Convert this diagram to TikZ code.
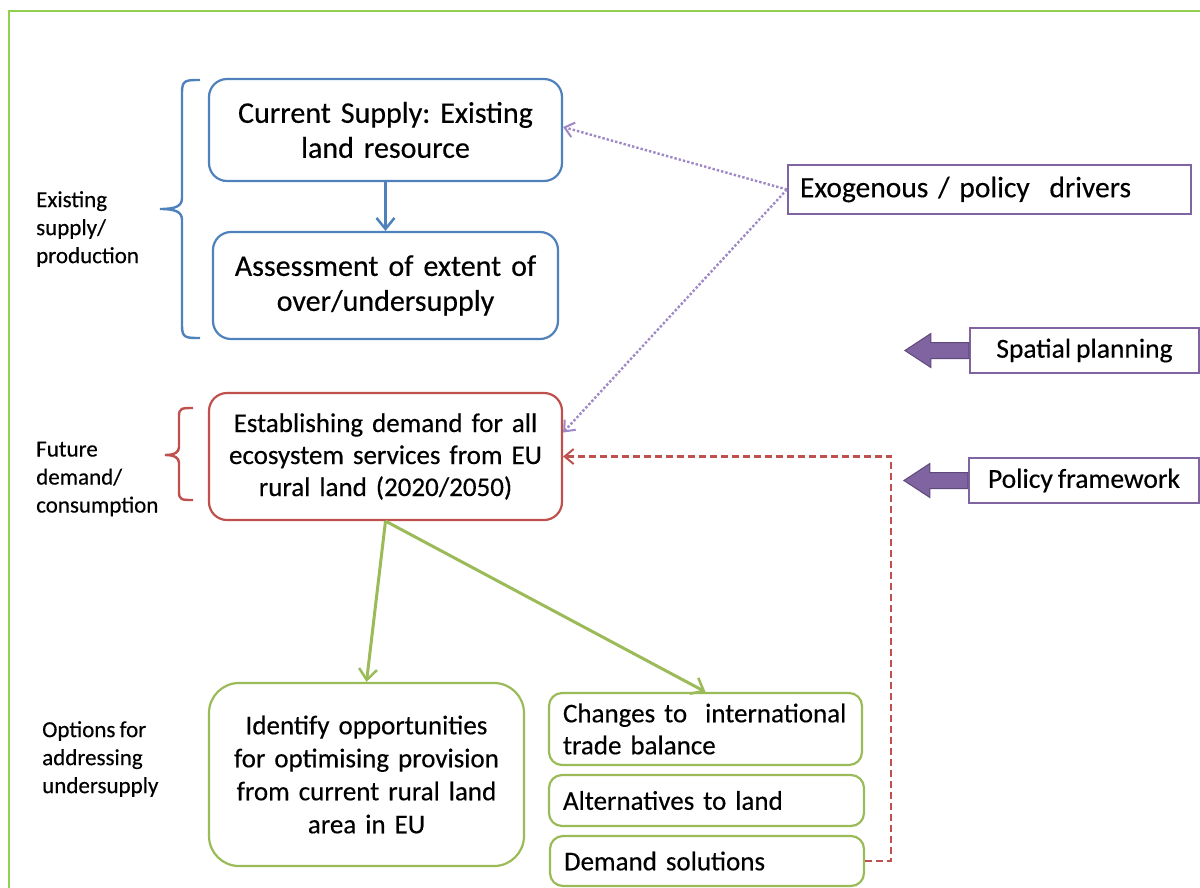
\documentclass[tikz,border=0pt]{standalone}
\usepackage{fontspec}
\setmainfont{Carlito}[UprightFeatures={FakeBold=0.35}, WordSpace=0.8]
\usetikzlibrary{arrows.meta}
\definecolor{cblue}{HTML}{4F81BD}
\definecolor{cred}{HTML}{C0504D}
\definecolor{cgreen}{HTML}{9BBB59}
\definecolor{cpurple}{HTML}{8064A2}
\definecolor{cpurpledark}{HTML}{5E4A7A}
\definecolor{cdot}{HTML}{9E88C6}
\definecolor{cframe}{HTML}{92D050}
\tikzset{
  box/.style={draw, line width=2.2pt, rounded corners=18pt, align=center, inner xsep=6pt, inner ysep=0pt},
  bluebox/.style={box, draw=cblue},
  redbox/.style={box, draw=cred},
  greenbox/.style={box, draw=cgreen},
  smallgreen/.style={box, draw=cgreen, rounded corners=13pt, align=left, inner xsep=14pt},
  purplebox/.style={draw=cpurple, line width=2.2pt, inner ysep=0pt},
  sidelabel/.style={align=left, inner sep=0pt, font=\fontsize{23}{28}\selectfont},
  openarrow/.style={-{Straight Barb[length=11pt,width=18pt,line width=2.5pt]}},
  smallarrow/.style={-{Straight Barb[length=9pt,width=15pt,line width=2pt]}},
  brace/.style={line width=2.4pt},
}
\begin{document}
\frenchspacing
\begin{tikzpicture}[x=1pt,y=-1pt]
\useasboundingbox (0,0) rectangle (1200,887);
\fill[white] (0,0) rectangle (1200,887);
\draw[cframe, line width=2pt] (9,900) -- (9,11) -- (1210,11);

% main boxes
\node[bluebox, minimum width=353pt, minimum height=102pt, text width=341pt, font=\fontsize{30}{35}\selectfont] (b1) at (385.5,130) {Current Supply: Existing\\land resource};
\node[bluebox, minimum width=345pt, minimum height=107pt, text width=333pt, font=\fontsize{30}{35}\selectfont] (b2) at (385.5,285.5) {Assessment of extent of\\over/undersupply};
\node[redbox, minimum width=353pt, minimum height=127pt, text width=341pt, font=\fontsize{27}{32}\selectfont] (b3) at (385.5,456.5) {Establishing demand for all\\ecosystem services from EU\\rural land (2020/2050)};
\node[greenbox, rounded corners=30pt, minimum width=315pt, minimum height=183pt, text width=303pt, font=\fontsize{27}{33}\selectfont] (b4) at (366.5,774.5) {Identify opportunities\\for optimising provision\\from current rural land\\area in EU};
\node[smallgreen, minimum width=313pt, minimum height=72pt, text width=285pt, font=\fontsize{27}{32}\selectfont] (b5) at (705.5,729) {Changes to\ \ international\\trade balance};
\node[smallgreen, minimum width=315pt, minimum height=51pt, text width=287pt, font=\fontsize{27}{32}\selectfont] (b6) at (706.5,800.5) {Alternatives to land};
\node[smallgreen, minimum width=314pt, minimum height=50pt, text width=286pt, font=\fontsize{27}{32}\selectfont] (b7) at (707,861) {Demand solutions};

% purple boxes
\node[purplebox, minimum width=403pt, minimum height=49pt, text width=379pt, inner xsep=12pt, align=left, font=\fontsize{29.5}{32}\selectfont] (exo) at (989.5,189.5) {Exogenous / policy\ \ drivers};
\node[purplebox, minimum width=229pt, minimum height=45pt, font=\fontsize{27.5}{30}\selectfont] (sp) at (1084.5,350.5) {Spatial planning};
\node[purplebox, minimum width=230pt, minimum height=45pt, font=\fontsize{27.5}{30}\selectfont] (pf) at (1084,480.5) {Policy framework};

% block arrows
\filldraw[fill=cpurple, draw=cpurpledark, line width=1pt] (sp.west) ++(0,-8) -- ++(-38,0) -- ++(0,-9) -- ++(-26,17) -- ++(26,17) -- ++(0,-9) -- ++(38,0) -- cycle;
\filldraw[fill=cpurple, draw=cpurpledark, line width=1pt] (pf.west) ++(0,-8) -- ++(-38,0) -- ++(0,-9) -- ++(-26,17) -- ++(26,17) -- ++(0,-9) -- ++(38,0) -- cycle;

% side labels
\node[sidelabel, anchor=west] (l1) at (36,229) {Existing\\supply/\\production};
\node[sidelabel, anchor=west] (l2) at (36,479) {Future\\demand/\\consumption};
\node[sidelabel, anchor=west] (l3) at (42,759) {Options for\\addressing\\undersupply};

% braces
\draw[cblue, brace] (200,80) .. controls (186,80) and (182,80) .. (182,92) -- (182,198)
  .. controls (182,206) and (176,209) .. (160,209)
  .. controls (176,209) and (182,212) .. (182,220) -- (182,326)
  .. controls (182,338) and (186,338) .. (200,338);
\draw[cred, brace] (193,408) .. controls (182,408) and (179,408) .. (179,416) -- (179,447)
  .. controls (179,452) and (175,455) .. (165,455)
  .. controls (175,455) and (179,458) .. (179,463) -- (179,492)
  .. controls (179,500) and (182,500) .. (193,500);

% connectors
\draw[cblue, line width=2.5pt, openarrow] (b1.south) -- (b2.north);
\draw[cgreen, line width=3pt, openarrow] (b3.south) -- (b4.north);
\draw[cgreen, line width=3pt, openarrow] (b3.south) -- (b5.north);
\draw[cdot, line width=2.4pt, dotted, smallarrow] (exo.west) -- ([yshift=3pt]b1.east);
\draw[cdot, line width=2.4pt, dotted, smallarrow] (exo.west) -- ([yshift=24pt]b3.east);
\draw[cred, line width=2.2pt, dash pattern=on 7pt off 4pt, smallarrow] (b7.east) -- ++(26,0) |- (b3.east);
\end{tikzpicture}
\end{document}
